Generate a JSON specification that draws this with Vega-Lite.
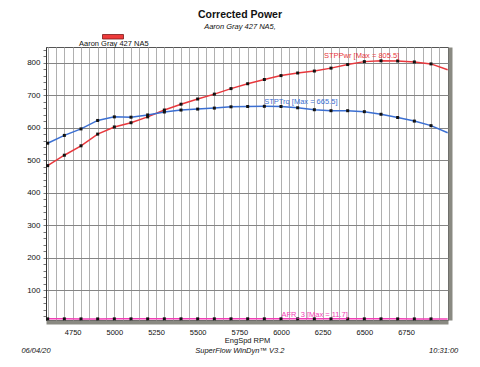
{
  "$schema": "https://vega.github.io/schema/vega-lite/v6.json",
  "width": 402,
  "height": 273,
  "autosize": {"type": "none"},
  "padding": {"left": 46, "top": 47, "right": 32, "bottom": 47},
  "background": "white",
  "title": {
    "text": "Corrected Power",
    "subtitle": "Aaron Gray 427 NA5,",
    "font": "Liberation Sans",
    "fontSize": 10.5,
    "fontWeight": "bold",
    "color": "#111",
    "subtitleFont": "Liberation Sans",
    "subtitleFontSize": 7.5,
    "subtitleFontStyle": "italic",
    "subtitleColor": "#111",
    "subtitlePadding": 2,
    "anchor": "middle",
    "offset": 3.5,
    "dx": -7
  },
  "config": {
    "font": "Liberation Sans",
    "view": {"stroke": "#555", "strokeWidth": 1}
  },
  "datasets": {
    "dyno": [
      {"rpm": 4600, "STPPwr": 483, "STPTrq": 552, "AFR_3": 11.5},
      {"rpm": 4700, "STPPwr": 515, "STPTrq": 576, "AFR_3": 11.5},
      {"rpm": 4800, "STPPwr": 544, "STPTrq": 596, "AFR_3": 11.4},
      {"rpm": 4900, "STPPwr": 580, "STPTrq": 622, "AFR_3": 11.4},
      {"rpm": 5000, "STPPwr": 602, "STPTrq": 633, "AFR_3": 11.5},
      {"rpm": 5100, "STPPwr": 615, "STPTrq": 632, "AFR_3": 11.5},
      {"rpm": 5200, "STPPwr": 633, "STPTrq": 639, "AFR_3": 11.5},
      {"rpm": 5300, "STPPwr": 654, "STPTrq": 648, "AFR_3": 11.6},
      {"rpm": 5400, "STPPwr": 672, "STPTrq": 654, "AFR_3": 11.6},
      {"rpm": 5500, "STPPwr": 688, "STPTrq": 657, "AFR_3": 11.6},
      {"rpm": 5600, "STPPwr": 703, "STPTrq": 660, "AFR_3": 11.6},
      {"rpm": 5700, "STPPwr": 720, "STPTrq": 664, "AFR_3": 11.6},
      {"rpm": 5800, "STPPwr": 735, "STPTrq": 665, "AFR_3": 11.7},
      {"rpm": 5900, "STPPwr": 748, "STPTrq": 665.5, "AFR_3": 11.6},
      {"rpm": 6000, "STPPwr": 760, "STPTrq": 665, "AFR_3": 11.6},
      {"rpm": 6100, "STPPwr": 768, "STPTrq": 661, "AFR_3": 11.6},
      {"rpm": 6200, "STPPwr": 774, "STPTrq": 655, "AFR_3": 11.5},
      {"rpm": 6300, "STPPwr": 783, "STPTrq": 652, "AFR_3": 11.5},
      {"rpm": 6400, "STPPwr": 794, "STPTrq": 652, "AFR_3": 11.5},
      {"rpm": 6500, "STPPwr": 803, "STPTrq": 649, "AFR_3": 11.5},
      {"rpm": 6600, "STPPwr": 805.5, "STPTrq": 641, "AFR_3": 11.5},
      {"rpm": 6700, "STPPwr": 805, "STPTrq": 631, "AFR_3": 11.5},
      {"rpm": 6800, "STPPwr": 802, "STPTrq": 620, "AFR_3": 11.4},
      {"rpm": 6900, "STPPwr": 796, "STPTrq": 606, "AFR_3": 11.4},
      {"rpm": 7000, "STPPwr": 778, "STPTrq": 584, "AFR_3": 11.4}
    ],
    "notes": [
      {"series": "STPPwr", "label": "STPPwr [Max = 805.5]", "rpm": 6258, "value": 813},
      {"series": "STPTrq", "label": "STPTrq [Max = 665.5]", "rpm": 5899, "value": 673},
      {"series": "AFR_3", "label": "AFR_3 [Max = 11.7]", "rpm": 6003, "value": 18}
    ],
    "footer": [
      {"label": "06/04/20", "rpm": 4530, "value": -87},
      {"label": "SuperFlow WinDyn™ V3.2", "rpm": 5753, "value": -87},
      {"label": "10:31:00", "rpm": 6976, "value": -87}
    ]
  },
  "layer": [
    {
      "data": {"name": "dyno"},
      "transform": [{"fold": ["STPPwr", "STPTrq", "AFR_3"], "as": ["series", "value"]}],
      "mark": {"type": "line", "strokeWidth": 1.5, "clip": true},
      "encoding": {
        "x": {
          "field": "rpm", "type": "quantitative",
          "scale": {"domain": [4590, 7002], "nice": false, "zero": false},
          "axis": {
            "orient": "bottom",
            "values": [4600,4650,4700,4750,4800,4850,4900,4950,5000,5050,5100,5150,5200,5250,5300,5350,5400,5450,5500,5550,5600,5650,5700,5750,5800,5850,5900,5950,6000,6050,6100,6150,6200,6250,6300,6350,6400,6450,6500,6550,6600,6650,6700,6750,6800,6850,6900,6950],
            "format": "d",
            "labelExpr": "datum.value % 250 == 0 ? datum.label : ''",
            "labelOverlap": false,
            "labelFlush": false,
            "grid": true,
            "gridColor": "#b0b0b0",
            "gridWidth": 1,
            "ticks": false,
            "tickSize": 0,
            "domain": false,
            "labelFontSize": 7.5,
            "labelColor": "#111",
            "labelPadding": 8,
            "title": "EngSpd RPM",
            "titleFontSize": 7.5,
            "titleFontWeight": "normal",
            "titleColor": "#111",
            "titlePadding": 1
          }
        },
        "y": {
          "field": "value", "type": "quantitative",
          "scale": {"domain": [8, 848], "nice": false, "zero": false},
          "axis": {
            "orient": "left",
            "values": [20,40,60,80,100,120,140,160,180,200,220,240,260,280,300,320,340,360,380,400,420,440,460,480,500,520,540,560,580,600,620,640,660,680,700,720,740,760,780,800,820,840],
            "format": "d",
            "labelExpr": "datum.value % 100 == 0 ? datum.label : ''",
            "labelOverlap": false,
            "labelFlush": false,
            "grid": true,
            "gridColor": {"condition": {"test": "datum.value % 100 == 0", "value": "#858585"}, "value": "rgba(0,0,0,0)"},
            "gridWidth": 1,
            "ticks": true,
            "tickSize": 3,
            "tickColor": "#777",
            "domain": true,
            "domainColor": "#333",
            "labelFontSize": 8,
            "labelColor": "#111",
            "labelPadding": 3,
            "title": null
          }
        },
        "color": {
          "field": "series", "type": "nominal",
          "scale": {"domain": ["STPPwr", "STPTrq", "AFR_3"], "range": ["#e8383d", "#3b6fd2", "#f23db6"]},
          "legend": null
        }
      }
    },
    {
      "data": {"name": "dyno"},
      "transform": [
        {"filter": "datum.rpm < 7000"},
        {"fold": ["STPPwr", "STPTrq", "AFR_3"], "as": ["series", "value"]}
      ],
      "mark": {"type": "point", "shape": "square", "filled": true, "size": 9, "opacity": 1, "color": "#111"},
      "encoding": {
        "x": {
          "field": "rpm", "type": "quantitative",
          "axis": {"orient": "bottom", "domain": true, "domainWidth": 4, "domainColor": "#8a8a82", "ticks": false, "labels": false, "grid": false, "title": null, "offset": 2}
        },
        "y": {
          "field": "value", "type": "quantitative",
          "axis": {"orient": "right", "domain": true, "domainWidth": 4, "domainColor": "#8a8a82", "ticks": false, "labels": false, "grid": false, "title": null, "offset": 2}
        }
      }
    },
    {
      "data": {"name": "dyno"},
      "transform": [{"filter": "false"}],
      "mark": {"type": "point", "shape": "square", "filled": true, "opacity": 1},
      "encoding": {
        "x": {"field": "rpm", "type": "quantitative", "axis": null},
        "y": {"field": "STPPwr", "type": "quantitative", "axis": null},
        "fill": {
          "datum": "Aaron Gray 427 NA5",
          "scale": {"range": ["#ee3b3b"]},
          "legend": {
            "orient": "none",
            "legendX": 32,
            "legendY": -13.5,
            "title": null,
            "padding": 0,
            "symbolType": "M 1.4 -0.95 H 3.5 V -0.5 H 1.4 Z",
            "symbolSize": 400,
            "symbolStrokeColor": "#7a1a1a",
            "symbolStrokeWidth": 0.8,
            "symbolOpacity": 1,
            "labelOffset": -20,
            "labelFontSize": 7.5,
            "labelColor": "#111"
          }
        }
      }
    },
    {
      "data": {"name": "notes"},
      "mark": {"type": "text", "align": "left", "baseline": "alphabetic", "fontSize": 7.5},
      "encoding": {
        "x": {"field": "rpm", "type": "quantitative", "axis": null},
        "y": {"field": "value", "type": "quantitative", "axis": null},
        "text": {"field": "label"},
        "color": {"field": "series", "type": "nominal", "legend": null}
      }
    },
    {
      "data": {"name": "footer"},
      "mark": {"type": "text", "align": "center", "baseline": "middle", "fontSize": 7.5, "fontStyle": "italic", "color": "#111"},
      "encoding": {
        "x": {"field": "rpm", "type": "quantitative", "axis": null},
        "y": {"field": "value", "type": "quantitative", "axis": null},
        "text": {"field": "label"}
      }
    }
  ],
  "resolve": {"axis": {"x": "independent", "y": "independent"}}
}
